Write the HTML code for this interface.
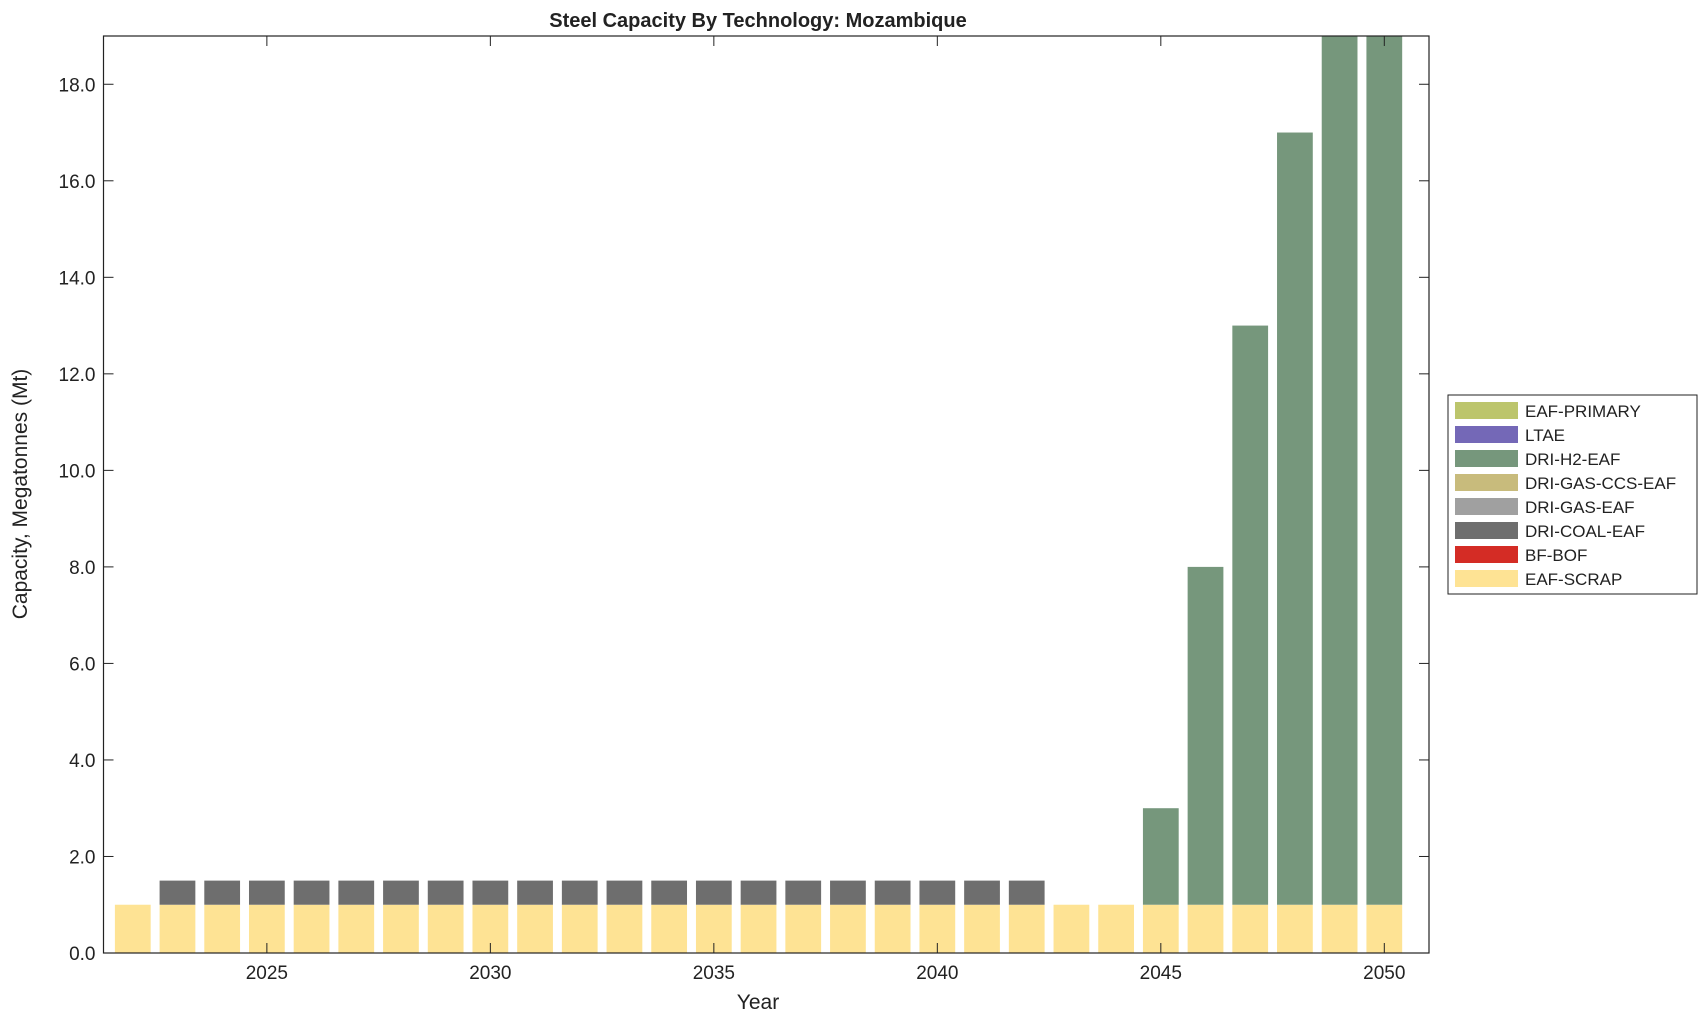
<!DOCTYPE html>
<html><head><meta charset="utf-8"><style>
body{margin:0;background:#fff;}
svg text{font-family:"Liberation Sans",Arial,sans-serif;fill:#222;}
</style></head><body>
<svg id="chart" width="1708" height="1021" xmlns="http://www.w3.org/2000/svg">
<rect width="1708" height="1021" fill="#fff"/>
<g id="plot"></g>
<text x="758" y="27" text-anchor="middle" font-size="20" font-weight="bold">Steel Capacity By Technology: Mozambique</text>
<text x="758" y="1009" text-anchor="middle" font-size="21">Year</text>
<text transform="translate(27,494) rotate(-90)" text-anchor="middle" font-size="21">Capacity, Megatonnes (Mt)</text>
<g id="legend"></g>
</svg>
<script>
const years=[2022,2023,2024,2025,2026,2027,2028,2029,2030,2031,2032,2033,2034,2035,2036,2037,2038,2039,2040,2041,2042,2043,2044,2045,2046,2047,2048,2049,2050];
const eafScrap=[1,1,1,1,1,1,1,1,1,1,1,1,1,1,1,1,1,1,1,1,1,1,1,1,1,1,1,1,1];
const driCoal=[0,0.5,0.5,0.5,0.5,0.5,0.5,0.5,0.5,0.5,0.5,0.5,0.5,0.5,0.5,0.5,0.5,0.5,0.5,0.5,0.5,0,0,0,0,0,0,0,0];
const driH2=[0,0,0,0,0,0,0,0,0,0,0,0,0,0,0,0,0,0,0,0,0,0,0,2,7,12,16,19,20];
const yTicks=[0,2,4,6,8,10,12,14,16,18];
const yTickLabels=["0.0","2.0","4.0","6.0","8.0","10.0","12.0","14.0","16.0","18.0"];
const xTicks=[2025,2030,2035,2040,2045,2050];
const legendNames=["EAF-PRIMARY","LTAE","DRI-H2-EAF","DRI-GAS-CCS-EAF","DRI-GAS-EAF","DRI-COAL-EAF","BF-BOF","EAF-SCRAP"];
const legendColors=["#bcc56c","#7468b7","#76977c","#c8bb7c","#a0a0a0","#6e6e6e","#d42c25","#fee394"];

const NS="http://www.w3.org/2000/svg";
const L=103.5,R=1429,T=36,B=953;
const xMin=2021.345,xMax=2051.0,yMin=0,yMax=19;
const xs=v=>L+(v-xMin)/(xMax-xMin)*(R-L);
const ys=v=>B-(v-yMin)/(yMax-yMin)*(B-T);
const plot=document.getElementById('plot');
function mk(tag,attrs,parent){const e=document.createElementNS(NS,tag);for(const k in attrs)e.setAttribute(k,attrs[k]);parent.appendChild(e);return e;}
const clip=mk('clipPath',{id:'clp'},plot);mk('rect',{x:L,y:T,width:R-L,height:B-T},clip);
const bars=mk('g',{'clip-path':'url(#clp)'},plot);
const series=[[eafScrap,"#fee394","eaf-scrap"],[driCoal,"#6e6e6e","dri-coal-eaf"],[driH2,"#76977c","dri-h2-eaf"]];
const bw=0.8*(R-L)/(xMax-xMin);
years.forEach((yr,i)=>{
  let base=0;
  series.forEach(([arr,col,nm])=>{
    const v=arr[i]; if(v<=0)return;
    const r=mk('rect',{x:xs(yr)-bw/2,y:ys(base+v),width:bw,height:ys(base)-ys(base+v),fill:col},bars);
    
    
    base+=v;
  });
});
const ax=mk('rect',{x:L,y:T,width:R-L,height:B-T,fill:'none',stroke:'#222','stroke-width':1.2},plot);


yTicks.forEach((t,i)=>{
  const y=ys(t);
  mk('line',{x1:L,x2:L+10,y1:y,y2:y,stroke:'#222'},plot);
  mk('line',{x1:R-10,x2:R,y1:y,y2:y,stroke:'#222'},plot);
  const tx=mk('text',{x:L-8,y:y+7,'text-anchor':'end','font-size':19},plot);
  tx.textContent=yTickLabels[i];
  
  
});
xTicks.forEach(t=>{
  const x=xs(t);
  mk('line',{x1:x,x2:x,y1:B,y2:B-10,stroke:'#222'},plot);
  mk('line',{x1:x,x2:x,y1:T,y2:T+10,stroke:'#222'},plot);
  const tx=mk('text',{x:x,y:B+26,'text-anchor':'middle','font-size':19},plot);
  tx.textContent=t;
  
  
});
const lg=document.getElementById('legend');
mk('rect',{x:1448,y:395,width:249,height:199,fill:'#fff',stroke:'#222','stroke-width':1},lg);
legendNames.forEach((n,i)=>{
  const y=402+i*24;
  const g=mk('g',{},lg);
  
  
  mk('rect',{x:1455,y:y,width:63,height:17,fill:legendColors[i]},g);
  const t=mk('text',{x:1525,y:y+15,'font-size':17},g);
  t.textContent=n;
});
</script>
</body></html>
